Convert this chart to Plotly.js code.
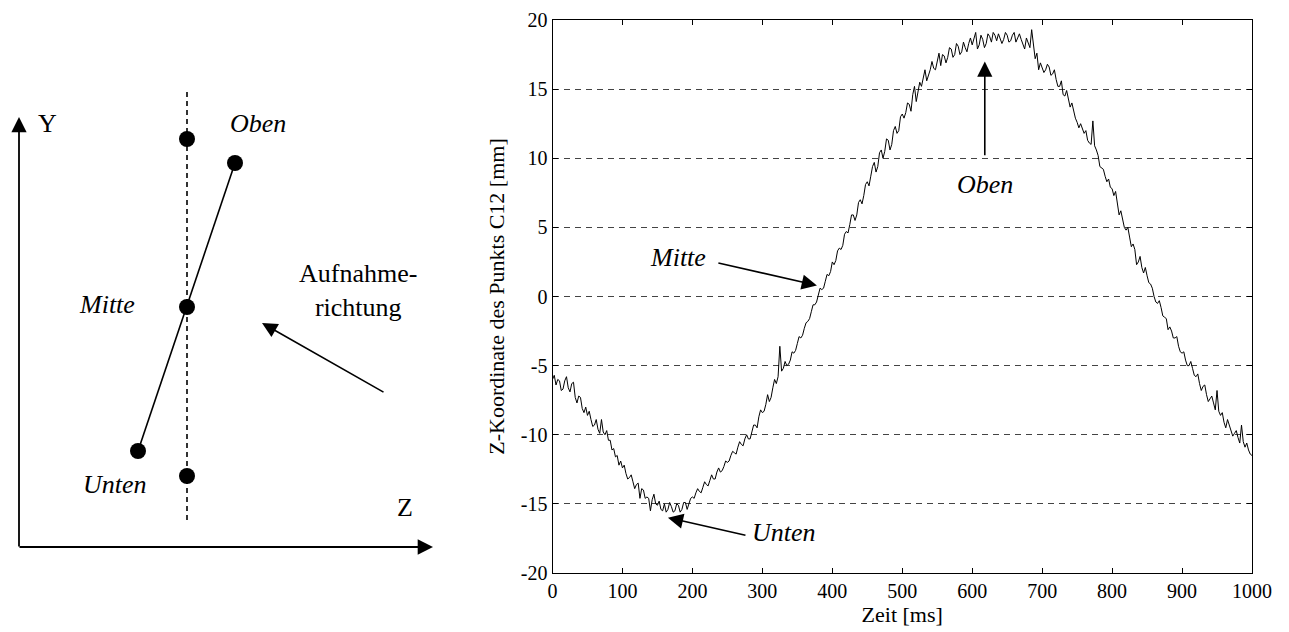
<!DOCTYPE html>
<html>
<head>
<meta charset="utf-8">
<script src="https://cdn.plot.ly/plotly-3.0.1.min.js"></script>
<style>html,body{margin:0;padding:0;background:#fff;}#chart{width:1289px;height:632px;}</style>
</head>
<body>
<div id="chart"></div>
<script>
// ---- Data ----
const zeitMs = [
  0,2.5,5,7.5,10,12.5,15,17.5,20,22.5,25,27.5,30,32.5,35,37.5,40,42.5,45,47.5,
  50,52.5,55,57.5,60,62.5,65,67.5,70,72.5,75,77.5,80,82.5,85,87.5,90,92.5,95,97.5,
  100,102.5,105,107.5,110,112.5,115,117.5,120,122.5,125,127.5,130,132.5,135,137.5,140,142.5,145,147.5,
  150,152.5,155,157.5,160,162.5,165,167.5,170,172.5,175,177.5,180,182.5,185,187.5,190,192.5,195,197.5,
  200,202.5,205,207.5,210,212.5,215,217.5,220,222.5,225,227.5,230,232.5,235,237.5,240,242.5,245,247.5,
  250,252.5,255,257.5,260,262.5,265,267.5,270,272.5,275,277.5,280,282.5,285,287.5,290,292.5,295,297.5,
  300,302.5,305,307.5,310,312.5,315,317.5,320,322.5,325,327.5,330,332.5,335,337.5,340,342.5,345,347.5,
  350,352.5,355,357.5,360,362.5,365,367.5,370,372.5,375,377.5,380,382.5,385,387.5,390,392.5,395,397.5,
  400,402.5,405,407.5,410,412.5,415,417.5,420,422.5,425,427.5,430,432.5,435,437.5,440,442.5,445,447.5,
  450,452.5,455,457.5,460,462.5,465,467.5,470,472.5,475,477.5,480,482.5,485,487.5,490,492.5,495,497.5,
  500,502.5,505,507.5,510,512.5,515,517.5,520,522.5,525,527.5,530,532.5,535,537.5,540,542.5,545,547.5,
  550,552.5,555,557.5,560,562.5,565,567.5,570,572.5,575,577.5,580,582.5,585,587.5,590,592.5,595,597.5,
  600,602.5,605,607.5,610,612.5,615,617.5,620,622.5,625,627.5,630,632.5,635,637.5,640,642.5,645,647.5,
  650,652.5,655,657.5,660,662.5,665,667.5,670,672.5,675,677.5,680,682.5,685,687.5,690,692.5,695,697.5,
  700,702.5,705,707.5,710,712.5,715,717.5,720,722.5,725,727.5,730,732.5,735,737.5,740,742.5,745,747.5,
  750,752.5,755,757.5,760,762.5,765,767.5,770,772.5,775,777.5,780,782.5,785,787.5,790,792.5,795,797.5,
  800,802.5,805,807.5,810,812.5,815,817.5,820,822.5,825,827.5,830,832.5,835,837.5,840,842.5,845,847.5,
  850,852.5,855,857.5,860,862.5,865,867.5,870,872.5,875,877.5,880,882.5,885,887.5,890,892.5,895,897.5,
  900,902.5,905,907.5,910,912.5,915,917.5,920,922.5,925,927.5,930,932.5,935,937.5,940,942.5,945,947.5,
  950,952.5,955,957.5,960,962.5,965,967.5,970,972.5,975,977.5,980,982.5,985,987.5,990,992.5,995,997.5,
  1000
];
const zKoordinateMm = [
  -6.0,-5.7,-6.4,-6.0,-6.1,-6.8,-6.7,-6.1,-5.8,-6.6,-6.9,-6.3,-6.2,-7.3,-7.7,-7.2,-7.3,-8.1,-8.4,-8.0,
  -8.6,-8.3,-8.9,-9.4,-9.3,-8.9,-9.6,-9.9,-8.9,-9.8,-10.0,-9.7,-10.4,-10.4,-11.1,-11.0,-11.6,-11.5,-12.2,-11.9,
  -12.4,-12.2,-12.8,-13.2,-13.1,-12.9,-13.4,-13.9,-13.6,-13.5,-14.6,-13.9,-14.0,-14.6,-14.5,-14.6,-15.5,-14.7,-14.3,-15.0,
  -15.1,-14.8,-15.4,-15.5,-15.0,-15.6,-15.4,-14.9,-15.2,-15.6,-15.5,-15.0,-15.1,-15.6,-15.4,-14.9,-14.9,-15.4,-15.0,-14.6,
  -14.5,-14.6,-14.2,-13.9,-14.1,-14.2,-13.8,-13.4,-13.6,-13.7,-13.3,-12.9,-13.2,-13.2,-12.7,-12.4,-12.7,-12.6,-12.3,-11.9,
  -12.0,-11.9,-11.5,-11.2,-11.3,-11.4,-10.9,-10.5,-10.7,-10.8,-10.3,-10.0,-10.3,-10.3,-9.8,-9.3,-9.3,-9.5,-8.7,-8.2,
  -8.4,-8.3,-7.8,-7.1,-7.6,-7.3,-6.6,-6.0,-6.3,-5.8,-3.6,-5.4,-5.2,-4.7,-5.0,-4.9,-4.6,-4.0,-4.1,-3.9,
  -3.4,-2.9,-3.0,-2.8,-2.3,-1.9,-1.8,-1.6,-1.1,-0.6,-0.6,-0.4,0.1,0.6,0.5,0.6,1.1,1.6,1.5,1.8,
  2.5,2.3,2.6,3.3,3.5,3.4,3.7,4.5,4.7,4.6,5.2,5.9,5.9,5.5,5.9,6.8,7.0,6.7,7.3,8.1,
  8.3,8.0,8.7,9.4,9.7,9.0,9.4,10.4,10.6,10.0,10.5,11.4,11.3,10.6,11.0,12.0,12.3,11.8,12.0,13.0,
  13.2,12.9,13.3,14.0,13.9,13.4,14.6,15.2,14.1,14.8,15.5,15.2,15.9,16.4,15.6,16.0,16.4,17.0,16.5,16.4,
  17.1,17.6,16.7,17.5,17.4,16.9,17.3,18.0,17.9,17.3,17.5,18.3,18.1,17.5,17.7,18.4,18.0,17.7,18.3,18.7,
  18.2,18.6,19.1,17.9,18.2,18.9,18.6,18.0,18.3,19.0,18.8,18.4,19.1,18.9,18.5,19.0,18.7,18.3,18.6,19.1,
  18.9,18.4,18.5,18.9,19.1,18.4,18.7,19.0,18.6,18.2,17.9,18.7,18.4,18.0,19.3,18.2,17.2,17.6,16.4,16.9,
  16.6,16.2,16.4,16.8,16.6,16.0,16.1,16.4,15.7,15.2,15.2,15.6,14.6,14.5,14.9,14.2,13.7,14.0,13.4,12.9,
  12.6,12.2,12.5,12.1,11.8,12.0,11.3,11.1,11.0,12.7,10.9,10.6,10.2,9.4,9.3,9.2,8.7,8.3,8.5,7.9,
  7.8,7.3,7.6,6.6,5.9,6.2,5.7,5.0,4.8,5.0,4.3,3.6,3.8,3.4,2.3,2.5,2.9,2.1,1.7,2.1,
  1.5,1.0,0.9,0.6,0.0,-0.4,-0.5,-0.3,-0.8,-1.4,-1.5,-1.6,-2.4,-2.2,-2.5,-3.0,-3.0,-2.9,-3.6,-4.0,
  -4.1,-4.0,-4.6,-5.0,-5.0,-4.7,-5.2,-5.7,-5.8,-5.6,-6.3,-6.8,-6.5,-6.4,-7.1,-7.6,-7.4,-7.2,-7.7,-8.2,
  -6.8,-8.3,-8.6,-8.4,-9.1,-9.5,-8.9,-9.3,-9.6,-10.1,-9.9,-9.7,-10.2,-10.6,-9.3,-10.5,-10.9,-10.6,-11.1,-11.4,
  -11.5
];
const xTickVals = [0,100,200,300,400,500,600,700,800,900,1000];
const yTickVals = [-20,-15,-10,-5,0,5,10,15,20];
const yTickText = ['-20','-15','-10','-5','0','5','10','15','20'];

// Schematic (left panel) geometry, in panel units
const refLineZ = [187, 187];
const refLineY = [92, 523];
const tiltZ = [235, 138];
const tiltY = [163, 451];
const dotZ = [187, 187, 187, 235, 138];
const dotY = [139, 307, 476, 163, 451];

const SERIF = 'Liberation Serif, Times New Roman, serif';
const W = 1289, H = 632;

const traces = [
  {x: zeitMs, y: zKoordinateMm, type: 'scatter', mode: 'lines',
   line: {color: '#000', width: 1}, xaxis: 'x', yaxis: 'y', hoverinfo: 'skip'},
  {x: refLineZ, y: refLineY, type: 'scatter', mode: 'lines',
   line: {color: '#000', width: 1.6, dash: '5px,4px'}, xaxis: 'x2', yaxis: 'y2', hoverinfo: 'skip'},
  {x: tiltZ, y: tiltY, type: 'scatter', mode: 'lines',
   line: {color: '#000', width: 1.6}, xaxis: 'x2', yaxis: 'y2', hoverinfo: 'skip'},
  {x: dotZ, y: dotY, type: 'scatter', mode: 'markers',
   marker: {color: '#000', size: 16}, xaxis: 'x2', yaxis: 'y2', hoverinfo: 'skip'}
];

const ann = [];
function txt(x, y, t, ref, size, extra) {
  ann.push(Object.assign({x: x, y: y, text: t, showarrow: false, xref: ref[0], yref: ref[1],
    font: {family: SERIF, size: size, color: '#000'}}, extra || {}));
}
function arrow(x, y, ax, ay, ref, w, s) {
  ann.push({x: x, y: y, ax: ax, ay: ay, text: '', showarrow: true, xref: ref[0], yref: ref[1],
    axref: ref[0], ayref: ref[1], arrowhead: 2, arrowsize: s, arrowwidth: w, arrowcolor: '#000', standoff: 0, startstandoff: 0});
}
const M = ['x', 'y'], S = ['x2', 'y2'];
// main plot annotations
txt(618, 8.1, '<i>Oben</i>', M, 26);
arrow(618, 17.0, 618, 10.1, M, 1.6, 1.9);
txt(179.5, 2.8, '<i>Mitte</i>', M, 26);
arrow(378, 0.8, 235, 2.45, M, 1.6, 1.9);
txt(331, -17.05, '<i>Unten</i>', M, 26);
arrow(165, -16.0, 278, -17.3, M, 1.6, 1.9);
// schematic annotations
arrow(19, 117, 19, 548, S, 1.8, 1.7);
arrow(433, 547, 18, 547, S, 1.8, 1.7);
arrow(262, 323, 385, 393, S, 1.6, 1.9);
txt(47, 123, 'Y', S, 26);
txt(405, 507, 'Z', S, 26);
txt(258, 123, '<i>Oben</i>', S, 26);
txt(107, 304, '<i>Mitte</i>', S, 26);
txt(115, 484, '<i>Unten</i>', S, 26);
txt(358, 290, 'Aufnahme-<br>richtung', S, 26);

const axisCommon = {
  showline: true, linecolor: '#000', linewidth: 1, mirror: 'ticks',
  ticks: 'inside', ticklen: 5, tickcolor: '#000', tickwidth: 1,
  zeroline: false, tickfont: {family: SERIF, size: 20, color: '#000'}, fixedrange: true
};

const layout = {
  width: W, height: H, margin: {l: 0, r: 0, t: 0, b: 0},
  paper_bgcolor: '#fff', plot_bgcolor: '#fff', showlegend: false, hovermode: false,
  xaxis: Object.assign({}, axisCommon, {
    domain: [552.5 / W, 1252 / W], range: [0, 1000], tickvals: xTickVals,
    showgrid: false, anchor: 'y',
    title: {text: 'Zeit [ms]', font: {family: SERIF, size: 22, color: '#000'}, standoff: 0}
  }),
  yaxis: Object.assign({}, axisCommon, {
    domain: [1 - 573 / H, 1 - 20 / H], range: [-20, 20], tickvals: yTickVals, ticktext: yTickText,
    showgrid: true, gridcolor: '#444', gridwidth: 1, griddash: '6px,5px', anchor: 'x',
    title: {text: 'Z-Koordinate des Punkts C12 [mm]', font: {family: SERIF, size: 22, color: '#000'}, standoff: 10}
  }),
  xaxis2: {domain: [0, 440 / W], range: [0, 440], visible: false, anchor: 'y2', fixedrange: true},
  yaxis2: {domain: [0, 1], range: [H, 0], visible: false, anchor: 'x2', fixedrange: true},
  annotations: ann
};

Plotly.newPlot('chart', traces, layout, {displayModeBar: false, staticPlot: true});
</script>
</body>
</html>
